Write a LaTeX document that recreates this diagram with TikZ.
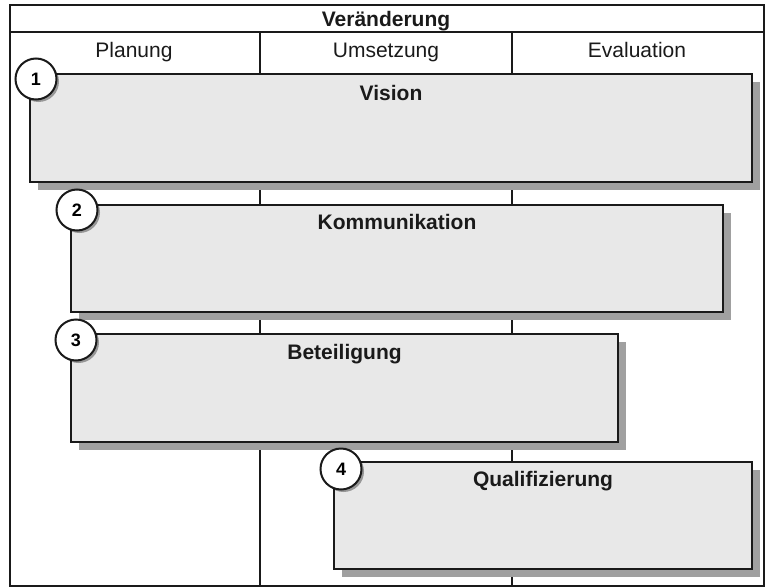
\documentclass[tikz,border=0pt]{standalone}
\usepackage{fontspec}
\setmainfont{Liberation Sans}
\usetikzlibrary{shadows}
\definecolor{linec}{HTML}{1A1A1A}
\definecolor{boxfill}{HTML}{E8E8E8}
\definecolor{shadowc}{HTML}{A0A0A0}
\tikzset{
  stagebox/.style={draw=linec, line width=2pt, fill=boxfill, inner sep=0pt, anchor=north west,
    drop shadow={shadow xshift=8pt, shadow yshift=-8pt, fill=shadowc, opacity=1}},
  numcircle/.style={circle, draw=linec, line width=2pt, fill=white, minimum size=41pt, inner sep=0pt,
    font=\fontsize{18}{20}\selectfont\bfseries,
    drop shadow={shadow xshift=2.5pt, shadow yshift=-2.5pt, fill=black, opacity=0.35}},
  boxlabel/.style={font=\fontsize{21}{25}\selectfont\bfseries, text=linec, anchor=base, inner sep=0pt},
  colhead/.style={font=\fontsize{21}{25}\selectfont, text=linec, anchor=base, inner sep=0pt},
  gridline/.style={draw=linec, line width=2pt}
}
\begin{document}
\begin{tikzpicture}[x=1pt,y=-1pt]
\useasboundingbox (0,0) rectangle (765,586);
% frame and grid
\node[draw=linec, line width=2pt, minimum width=754pt, minimum height=581pt, inner sep=0pt, anchor=north west] (frame) at (9,4) {};
\coordinate (tl) at (9,32);
\coordinate (tr) at (763,32);
\draw[gridline] (tl) -- (tr);
\coordinate (c1t) at (260,32);
\coordinate (c1b) at (260,585);
\coordinate (c2t) at (512,32);
\coordinate (c2b) at (512,585);
\draw[gridline] (c1t) -- (c1b);
\draw[gridline] (c2t) -- (c2b);
% headers
\node[boxlabel] (title) at (386,27) {Veränderung};
\node[colhead] (h1) at (134,58) {Planung};
\node[colhead] (h2) at (386,58) {Umsetzung};
\node[colhead] (h3) at (637,58) {Evaluation};
% boxes
\node[stagebox, minimum width=722pt, minimum height=108pt] (b1) at (29,73) {};
\node[boxlabel] (l1) at ([yshift=-27pt]b1.north) {Vision};
\node[numcircle] (n1) at ([xshift=7pt,yshift=-6pt]b1.north west) {1};

\node[stagebox, minimum width=652pt, minimum height=107pt] (b2) at (70,204) {};
\node[boxlabel] (l2) at ([yshift=-25pt]b2.north) {Kommunikation};
\node[numcircle] (n2) at ([xshift=7pt,yshift=-6pt]b2.north west) {2};

\node[stagebox, minimum width=547pt, minimum height=108pt] (b3) at (70,333) {};
\node[boxlabel] (l3) at ([yshift=-26pt]b3.north) {Beteiligung};
\node[numcircle] (n3) at ([xshift=6pt,yshift=-7pt]b3.north west) {3};

\node[stagebox, minimum width=418pt, minimum height=107pt] (b4) at (333,461) {};
\node[boxlabel] (l4) at ([yshift=-25pt]b4.north) {Qualifizierung};
\node[numcircle] (n4) at ([xshift=8pt,yshift=-8pt]b4.north west) {4};
\end{tikzpicture}
\end{document}
